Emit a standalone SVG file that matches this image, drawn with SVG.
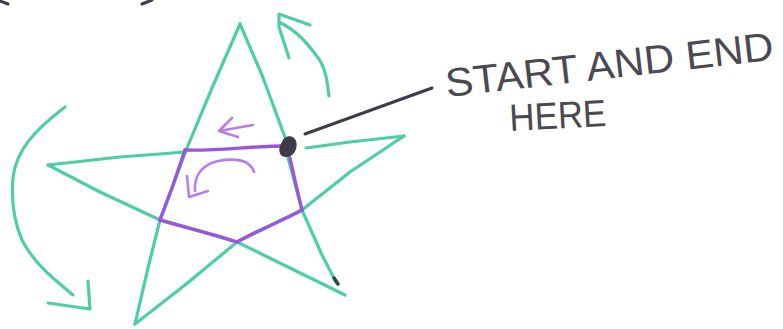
<svg xmlns="http://www.w3.org/2000/svg" width="783" height="329" viewBox="0 0 783 329">
<style>
.g{fill:none;stroke:#4dcfa3;stroke-width:3.2;stroke-linecap:round;stroke-linejoin:round}
.p{fill:none;stroke:#9a55dc;stroke-width:3.4;stroke-linecap:round;stroke-linejoin:round}
.pl{fill:none;stroke:#b77de8;stroke-width:2.6;stroke-linecap:round;stroke-linejoin:round}
.k{fill:none;stroke:#3d3c48;stroke-width:3;stroke-linecap:round}
.t{font-family:"Liberation Sans",Arial,sans-serif;fill:#4a4952}
</style>
<rect width="783" height="329" fill="#ffffff"/>
<g id="marks">
<path class="k" d="M0,1 L8,4"/>
<path class="k" d="M142,4 L152,0" stroke-width="4"/>
</g>
<g id="star">
<path class="g" d="M240,24 L262,75 L286,140"/>
<path class="g" d="M286,150 L302,210 L322,255 L336,282"/>
<path class="g" d="M240,24 L212,88 L187,148 L172,188 L160,220 L148,268 L135,324"/>
<path class="g" d="M135,324 L185,285 L237,242 L302,210 L350,172 L404,136"/>
<path class="g" d="M404,136 L350,142 L306,148"/>
<path class="g" d="M185,152 L120,157 L48,165"/>
<path class="g" d="M48,165 L100,192 L160,220 L237,242 L290,268 L345,295"/>
<path d="M334,278 L338,284" stroke="#2d4a3c" stroke-width="3.5" stroke-linecap="round"/>
</g>
<g id="pentagon">
<path class="p" d="M185,150 C 220,151 250,146 285,146"/>
<path class="p" d="M290,158 L296,185 L302,210"/>
<path class="p" d="M302,210 C 280,222 258,230 237,242"/>
<path class="p" d="M237,242 C 212,234 188,228 160,220"/>
<path class="p" d="M160,220 L172,188 L185,150"/>
</g>
<g id="purple-arrows">
<path class="pl" d="M253,125 L219,131 M232,118 L219,131 L238,137"/>
<path class="pl" d="M254,172 C 250,160 235,158 218,161 C 200,165 194,178 195,191"/>
<path class="pl" d="M187,176 L189,197 L208,191"/>
</g>
<g id="green-arrows">
<path class="g" d="M329,96 C 327,78 325,66 316,55 C 306,42 298,32 281,23"/>
<path class="g" d="M289,58 L279,27 L279,14 L310,25"/>
<path class="g" d="M65,107 C 35,130 16,150 13,178 C 11,202 15,224 22,240 C 35,265 55,280 73,295"/>
<path class="g" d="M48,303 L90,309 L88,281"/>
</g>
<g id="start-dot">
<path d="M282,142 C 283,137 290,134 294,138 C 298,141 297,150 294,153 C 291,157 286,158 282,156 C 278,153 279,146 282,142 Z" fill="#3d3c48"/>
</g>
<g id="connectors">
<path class="k" d="M305,134 L432,88"/>
</g>
<g id="label">
<text class="t" x="447" y="97" font-size="40" textLength="330" lengthAdjust="spacingAndGlyphs" transform="rotate(-6.5 447 97)">START AND END</text>
<text class="t" x="510" y="131" font-size="38" textLength="97" lengthAdjust="spacingAndGlyphs" transform="rotate(-3 510 131)">HERE</text>
</g>
</svg>
